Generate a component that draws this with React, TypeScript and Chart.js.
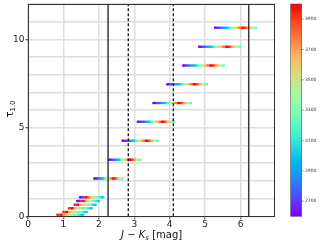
import React, { useEffect, useRef } from 'react';
import { Chart, registerables } from 'chart.js';

Chart.register(...registerables);

// ---- data ----
const STRIP_TAU = [10.66, 9.59, 8.53, 7.46, 6.4, 5.34, 4.27, 3.19, 2.14, 1.07, 0.86, 0.65, 0.45, 0.24, 0.09];

// model set 1 (Teff per point, left to right along each strip)
const TEFF_UPPER = [2600, 2700, 2800, 2900, 3000, 3100, 3300, 3500, 3700, 3900, 4000, 3800, 3600, 3400, 3200];
const TEFF_LOWER_A = [2600, 2700, 2800, 4000, 3900, 3800, 3700, 3600, 3500, 3400, 3300, 3200, 3100];
const TEFF_LOWER_B = [4000, 3900, 3800, 3700, 3600, 3500, 3400, 3300, 3200, 3100, 3000];
// model set 2
const TEFF_UPPER_2 = [2600, 2700, 2800, 2900, 3000, 3200, 3400, 3600, 3800, 4000, 3900, 3700, 3500, 3300];
const TEFF_LOWER_A2 = [2600, 2700, 3900, 4000, 3800, 3600, 3500, 3400, 3300, 3200, 3100, 3000];
const TEFF_LOWER_B2 = [3900, 4000, 3700, 3600, 3400, 3500, 3200, 3300, 3100, 3000];

const STRIP_TEFF = [
  TEFF_UPPER, TEFF_UPPER, TEFF_UPPER, TEFF_UPPER, TEFF_UPPER, TEFF_UPPER, TEFF_UPPER, TEFF_UPPER, TEFF_UPPER,
  TEFF_LOWER_A, TEFF_LOWER_A, TEFF_LOWER_B, TEFF_LOWER_B, TEFF_LOWER_B, TEFF_LOWER_B,
];
const STRIP_TEFF_2 = [
  TEFF_UPPER_2, TEFF_UPPER_2, TEFF_UPPER_2, TEFF_UPPER_2, TEFF_UPPER_2, TEFF_UPPER_2, TEFF_UPPER_2, TEFF_UPPER_2, TEFF_UPPER_2,
  TEFF_LOWER_A2, TEFF_LOWER_A2, TEFF_LOWER_B2, TEFF_LOWER_B2, TEFF_LOWER_B2, TEFF_LOWER_B2,
];

const STRIP_X = [
  [5.28, 5.35, 5.43, 5.52, 5.6, 5.68, 5.77, 5.85, 5.93, 6.02, 6.1, 6.18, 6.27, 6.35, 6.44],
  [4.83, 4.9, 4.98, 5.07, 5.15, 5.23, 5.32, 5.4, 5.48, 5.57, 5.65, 5.73, 5.82, 5.9, 5.99],
  [4.38, 4.45, 4.53, 4.62, 4.7, 4.78, 4.87, 4.95, 5.03, 5.12, 5.2, 5.28, 5.37, 5.45, 5.53],
  [3.93, 4.0, 4.08, 4.17, 4.25, 4.33, 4.41, 4.49, 4.57, 4.65, 4.73, 4.81, 4.89, 4.97, 5.05],
  [3.54, 3.61, 3.69, 3.77, 3.84, 3.92, 3.99, 4.07, 4.14, 4.22, 4.3, 4.37, 4.45, 4.52, 4.6],
  [3.1, 3.17, 3.25, 3.32, 3.39, 3.46, 3.54, 3.61, 3.68, 3.76, 3.83, 3.9, 3.97, 4.05, 4.12],
  [2.67, 2.74, 2.81, 2.88, 2.96, 3.03, 3.1, 3.17, 3.24, 3.31, 3.38, 3.45, 3.53, 3.6, 3.67],
  [2.28, 2.34, 2.41, 2.47, 2.54, 2.6, 2.67, 2.73, 2.79, 2.86, 2.92, 2.99, 3.05, 3.12, 3.18],
  [1.87, 1.93, 1.98, 2.04, 2.1, 2.16, 2.21, 2.27, 2.33, 2.39, 2.44, 2.5, 2.56, 2.61, 2.67],
  [1.47, 1.52, 1.58, 1.63, 1.69, 1.74, 1.8, 1.85, 1.91, 1.96, 2.02, 2.07, 2.13],
  [1.39, 1.44, 1.49, 1.55, 1.6, 1.65, 1.7, 1.75, 1.8, 1.86, 1.91, 1.96, 2.01],
  [1.32, 1.38, 1.44, 1.5, 1.56, 1.62, 1.67, 1.73, 1.79, 1.85, 1.91],
  [1.16, 1.22, 1.29, 1.35, 1.42, 1.48, 1.54, 1.61, 1.67, 1.74, 1.8],
  [1.0, 1.07, 1.13, 1.2, 1.26, 1.33, 1.4, 1.46, 1.53, 1.59, 1.66],
  [0.83, 0.9, 0.98, 1.05, 1.12, 1.2, 1.27, 1.34, 1.41, 1.49, 1.56],
];

const STRIP_X_2 = [
  [5.31, 5.39, 5.47, 5.56, 5.64, 5.72, 5.81, 5.89, 5.97, 6.06, 6.14, 6.22, 6.31, 6.4],
  [4.86, 4.94, 5.02, 5.11, 5.19, 5.27, 5.36, 5.44, 5.52, 5.61, 5.69, 5.77, 5.86, 5.95],
  [4.41, 4.49, 4.57, 4.66, 4.74, 4.82, 4.91, 4.99, 5.07, 5.16, 5.24, 5.32, 5.41, 5.49],
  [3.96, 4.04, 4.12, 4.21, 4.29, 4.37, 4.45, 4.53, 4.61, 4.69, 4.77, 4.85, 4.93, 5.01],
  [3.57, 3.65, 3.73, 3.8, 3.88, 3.95, 4.03, 4.1, 4.18, 4.26, 4.33, 4.41, 4.48, 4.56],
  [3.13, 3.21, 3.28, 3.35, 3.42, 3.5, 3.57, 3.64, 3.72, 3.79, 3.86, 3.93, 4.01, 4.08],
  [2.7, 2.77, 2.84, 2.92, 2.99, 3.06, 3.13, 3.2, 3.27, 3.34, 3.41, 3.49, 3.56, 3.63],
  [2.31, 2.37, 2.44, 2.5, 2.57, 2.63, 2.7, 2.76, 2.82, 2.89, 2.95, 3.02, 3.08, 3.15],
  [1.9, 1.95, 2.01, 2.07, 2.13, 2.18, 2.24, 2.3, 2.36, 2.41, 2.47, 2.53, 2.58, 2.64],
  [1.49, 1.55, 1.6, 1.66, 1.71, 1.77, 1.82, 1.88, 1.93, 1.99, 2.04, 2.1],
  [1.41, 1.46, 1.52, 1.57, 1.62, 1.67, 1.72, 1.77, 1.83, 1.88, 1.93, 1.98],
  [1.35, 1.41, 1.47, 1.53, 1.59, 1.64, 1.7, 1.76, 1.82, 1.88],
  [1.19, 1.25, 1.32, 1.38, 1.45, 1.51, 1.57, 1.64, 1.7, 1.77],
  [1.03, 1.1, 1.16, 1.23, 1.29, 1.36, 1.43, 1.49, 1.56, 1.62],
  [0.86, 0.94, 1.01, 1.08, 1.16, 1.23, 1.3, 1.37, 1.45, 1.52],
];

const VLINES_SOLID = [2.26, 6.23];
const VLINES_DASHED = [2.83, 4.1];

const X_TICKS = [0, 1, 2, 3, 4, 5, 6];
const Y_TICKS = [0, 1, 2, 3, 4, 5, 6, 7, 8, 9, 10, 11, 12];
const Y_LABELED = [0, 5, 10];
const CB_TICKS = [2700, 2900, 3100, 3300, 3500, 3700, 3900];
const CB_MIN = 2600;
const CB_MAX = 4000;

// matplotlib "rainbow" colormap
function rainbow(t: number): string {
  const c = (v: number) => Math.max(0, Math.min(1, v));
  t = c(t);
  const r = c(Math.abs(2 * t - 0.5));
  const g = c(Math.sin(Math.PI * t));
  const b = c(Math.cos((Math.PI * t) / 2));
  return `rgb(${Math.round(r * 255)},${Math.round(g * 255)},${Math.round(b * 255)})`;
}
const teffColor = (v: number) => rainbow((v - CB_MIN) / (CB_MAX - CB_MIN));

const FONT = "'DejaVu Sans', sans-serif";

const noPad = (s: any) => {
  s.paddingTop = 0;
  s.paddingBottom = 0;
  s.paddingLeft = 0;
  s.paddingRight = 0;
};

export default function App() {
  const ref = useRef<HTMLCanvasElement | null>(null);

  useEffect(() => {
    if (!ref.current) return;

    const pts: { x: number; y: number }[] = [];
    const cols: string[] = [];
    const addSet = (X: number[][], T: number[][]) => {
      X.forEach((xs, i) => {
        xs.forEach((x, j) => {
          pts.push({ x, y: STRIP_TAU[i] });
          cols.push(teffColor(T[i][j]));
        });
      });
    };
    addSet(STRIP_X, STRIP_TEFF);
    addSet(STRIP_X_2, STRIP_TEFF_2);

    const lineDs = (x: number, dashed: boolean) => ({
      type: 'line' as const,
      data: [{ x, y: 0 }, { x, y: 12 }],
      borderColor: dashed ? '#000000' : '#3a3a3a',
      borderWidth: dashed ? 1.2 : 1.5,
      borderDash: dashed ? [3, 2] : [],
      pointRadius: 0,
      showLine: true,
      fill: false,
      order: 0,
    });

    const decor = {
      id: 'decor',
      afterDraw(chart: any) {
        const { ctx, chartArea: a } = chart;
        ctx.save();
        // frame
        ctx.strokeStyle = '#333';
        ctx.lineWidth = 1;
        ctx.strokeRect(Math.round(a.left) + 0.5, Math.round(a.top) + 0.5, Math.round(a.right - a.left) - 1, Math.round(a.bottom - a.top));

        // colorbar
        const cb = chart.scales.cb;
        const x0 = 290.7, x1 = 301.7;
        const yTop = cb.getPixelForValue(CB_MAX);
        const yBot = cb.getPixelForValue(CB_MIN);
        const grad = ctx.createLinearGradient(0, yBot, 0, yTop);
        for (let k = 0; k <= 40; k++) grad.addColorStop(k / 40, rainbow(k / 40));
        ctx.fillStyle = grad;
        ctx.fillRect(x0, yTop, x1 - x0, yBot - yTop);
        ctx.strokeStyle = '#555';
        ctx.lineWidth = 0.6;
        ctx.strokeRect(x0, yTop, x1 - x0, yBot - yTop);
        ctx.strokeStyle = '#333';
        ctx.lineWidth = 0.6;
        CB_TICKS.forEach((v) => {
          const y = cb.getPixelForValue(v);
          ctx.beginPath();
          ctx.moveTo(x1, y);
          ctx.lineTo(x1 + 1.8, y);
          ctx.stroke();
        });

        // x title: J − K_s [mag]
        ctx.fillStyle = '#111';
        ctx.textBaseline = 'alphabetic';
        ctx.textAlign = 'left';
        const fMain = `italic 10px ${FONT}`;
        const fSub = `italic 7px ${FONT}`;
        const fNorm = `10px ${FONT}`;
        ctx.font = fMain;
        const w1 = ctx.measureText('J − K').width;
        ctx.font = fSub;
        const w2 = ctx.measureText('s').width;
        ctx.font = fNorm;
        const w3 = ctx.measureText(' [mag]').width;
        const cx = (a.left + a.right) / 2;
        let sx = cx - (w1 + w2 + w3) / 2;
        const by = 237.5;
        ctx.font = fMain;
        ctx.fillText('J − K', sx, by);
        sx += w1;
        ctx.font = fSub;
        ctx.fillText('s', sx, by + 2);
        sx += w2;
        ctx.font = fNorm;
        ctx.fillText(' [mag]', sx, by);

        // y title: τ_1.0
        ctx.save();
        ctx.translate(12.5, 109);
        ctx.rotate(-Math.PI / 2);
        ctx.font = `10px ${FONT}`;
        const t1 = ctx.measureText('τ').width;
        ctx.font = `7px ${FONT}`;
        const t2 = ctx.measureText('1.0').width;
        let tx = -(t1 + t2) / 2;
        ctx.font = `10px ${FONT}`;
        ctx.fillText('τ', tx, 0);
        tx += t1;
        ctx.font = `7px ${FONT}`;
        ctx.fillText('1.0', tx, 2);
        ctx.restore();

        ctx.restore();
      },
    };

    const gridColor = '#dedede';

    const chart = new Chart(ref.current, {
      type: 'scatter',
      data: {
        datasets: [
          ...VLINES_SOLID.map((x) => lineDs(x, false)),
          ...VLINES_DASHED.map((x) => lineDs(x, true)),
          {
            type: 'scatter',
            data: pts,
            pointBackgroundColor: cols,
            pointBorderWidth: 0,
            pointRadius: 1.25,
            order: 1,
          } as any,
        ],
      },
      options: {
        animation: false,
        responsive: false,
        events: [],
        layout: { padding: { top: 3.3, left: 0, right: 0, bottom: 0 } },
        plugins: { legend: { display: false }, tooltip: { enabled: false } },
        scales: {
          x: {
            type: 'linear',
            min: 0,
            max: 6.98,
            afterBuildTicks: (s: any) => { s.ticks = X_TICKS.map((v) => ({ value: v })); },
            afterFit: (s: any) => { s.height = 26.7; noPad(s); },
            border: { display: false },
            grid: { color: gridColor, lineWidth: 1.5, tickColor: '#333', tickLength: 3, tickWidth: 1 },
            ticks: { font: { family: FONT, size: 9 }, color: '#222', padding: 0, maxRotation: 0 },
          },
          y: {
            type: 'linear',
            min: 0,
            max: 12,
            afterBuildTicks: (s: any) => { s.ticks = Y_TICKS.map((v) => ({ value: v })); },
            afterFit: (s: any) => { s.width = 28; noPad(s); },
            border: { display: false },
            grid: {
              color: gridColor,
              lineWidth: 1.5,
              tickLength: 2.5,
              tickWidth: 1,
              tickColor: (c: any) => (Y_LABELED.includes(c.tick?.value) ? '#333' : 'rgba(0,0,0,0)'),
            },
            ticks: {
              font: { family: FONT, size: 9 },
              color: '#222',
              padding: 1,
              callback: (v: any) => (Y_LABELED.includes(Number(v)) ? String(v) : ''),
            },
          },
          cb: {
            type: 'linear',
            position: 'right',
            min: CB_MIN,
            max: CB_MAX,
            afterBuildTicks: (s: any) => { s.ticks = CB_TICKS.map((v) => ({ value: v })); },
            afterFit: (s: any) => { s.width = 44.7; noPad(s); },
            border: { display: false },
            grid: { display: false, drawTicks: true, tickLength: 29.7, drawOnChartArea: false },
            ticks: {
              font: { family: FONT, size: 4.5 },
              color: '#333',
              padding: 0,
              callback: (v: any) => String(v),
            },
          },
        },
      } as any,
      plugins: [decor],
    });

    return () => chart.destroy();
  }, []);

  return (
    <canvas
      ref={ref}
      width={320}
      height={243}
      style={{ position: 'fixed', left: 0, top: 0, width: 320, height: 243, display: 'block' }}
    />
  );
}
